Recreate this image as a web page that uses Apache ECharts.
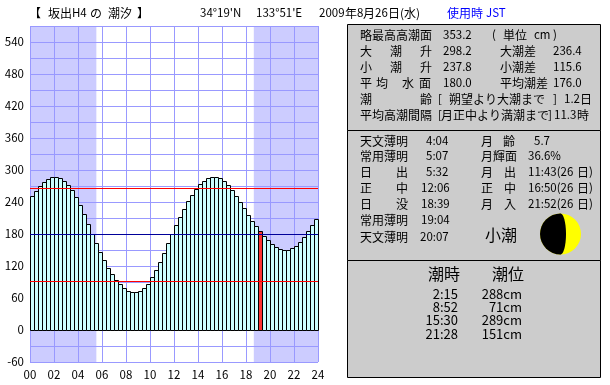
<!DOCTYPE html>
<html>
<head>
<meta charset="utf-8">
<style>
  html, body { margin: 0; padding: 0; background: #fff; }
  #chart { width: 610px; height: 385px; }
</style>
<script src="https://cdn.jsdelivr.net/npm/echarts@6/dist/echarts.min.js"></script>
</head>
<body>
<div id="chart"></div>
<script>
// 潮位 (cm), one bar every 20 minutes
var tideLevels = [
  251, 260, 269, 277, 282, 286, 286, 284, 279, 271, 262, 249,
  234, 217, 198, 179, 162, 146, 131, 116, 104, 93, 86, 78,
  72, 71, 71, 72, 78, 86, 99, 112, 127, 144, 162, 179,
  196, 211, 226, 241, 252, 264, 273, 279, 284, 286, 286, 284,
  279, 271, 262, 251, 239, 228, 215, 204, 194, 185, 176, 168,
  161, 155, 151, 149, 149, 153, 157, 164, 174, 185, 196, 207
];
var nowBarIndex = 57;
var barSlots = tideLevels.map(function (v, i) { return i; });

var meanHighWater = 266;
var meanLevel = 180;
var meanLowWater = 92;

var sunRise = 5.53;
var sunSet = 18.65;

var titleTexts = [
  ["【", 29], ["坂出", 48], ["H4", 72], ["の", 90], ["潮汐", 108], ["】", 137],
  ["34°19'N", 200], ["133°51'E", 256],
  ["2009", 319], ["年", 345], ["8", 357], ["月", 363], ["26", 375], ["日", 388], ["(水)", 400]
];

// [text, x, y]
var tableTexts = [
  ["略最高高潮面", 360, 35], ["353.2", 443, 35], ["(", 492, 35], ["単位", 503, 35], ["cm", 534, 35], [")", 553, 35],
  ["大", 360, 51], ["潮", 390, 51], ["升", 420, 51], ["298.2", 443, 51], ["大潮差", 500, 51], ["236.4", 553, 51],
  ["小", 360, 67], ["潮", 390, 67], ["升", 420, 67], ["237.8", 443, 67], ["小潮差", 500, 67], ["115.6", 553, 67],
  ["平", 360, 83], ["均", 376, 83], ["水", 402, 83], ["面", 419, 83], ["180.0", 443, 83], ["平均潮差", 500, 83], ["176.0", 553, 83],
  ["潮", 360, 99], ["齢", 420, 99], ["[", 438, 99], ["朔望より大潮まで", 449, 99], ["]", 553, 99], ["1.2", 564, 99], ["日", 580, 99],
  ["平均高潮間隔", 360, 115], ["[", 438, 115], ["月正中より満潮まで", 441, 115], ["]", 548, 115], ["11.3", 554, 115], ["時", 577, 115]
];

var sunMoonTexts = [
  ["天文薄明", 360, 141], ["4:04", 426, 141], ["月", 481, 141], ["齢", 503, 141], ["5.7", 534, 141],
  ["常用薄明", 360, 156], ["5:07", 426, 156], ["月輝面", 481, 156], ["36.6%", 528, 156],
  ["日", 360, 172], ["出", 396, 172], ["5:32", 426, 172], ["月", 481, 172], ["出", 504, 172], ["11:43(26", 528, 172], ["日", 577, 172], [")", 589, 172],
  ["正", 360, 188], ["中", 396, 188], ["12:06", 421, 188], ["正", 481, 188], ["中", 504, 188], ["16:50(26", 528, 188], ["日", 577, 188], [")", 589, 188],
  ["日", 360, 204], ["没", 396, 204], ["18:39", 421, 204], ["月", 481, 204], ["入", 504, 204], ["21:52(26", 528, 204], ["日", 577, 204], [")", 589, 204],
  ["常用薄明", 360, 220], ["19:04", 421, 220],
  ["天文薄明", 360, 237], ["20:07", 420, 237]
];

var tideTurnTimes = ["2:15", "8:52", "15:30", "21:28"];
var tideTurnLevels = ["288cm", "71cm", "289cm", "151cm"];

var FONT_CJK = '"Noto Sans CJK JP", sans-serif';

function label(text, x, y, size, color, align) {
  return {
    type: "text",
    z: 20,
    style: {
      text: text,
      x: x,
      y: y,
      font: size + "px " + FONT_CJK,
      fill: color || "#000",
      align: align || "left",
      verticalAlign: "middle"
    }
  };
}

function panel(y, h) {
  return {
    type: "rect",
    z: 10,
    shape: { x: 347.5, y: y + 0.5, width: 253, height: h },
    style: { fill: "#cccccc", stroke: "#000", lineWidth: 1 }
  };
}

function smartSize(text) {
  return /[\u3000-\u9fff]/.test(text) ? 12 : 11.5;
}

var graphics = [panel(24, 106), panel(130, 130), panel(260, 117)];

titleTexts.forEach(function (t) {
  graphics.push(label(t[0], t[1], 13, smartSize(t[0])));
});
graphics.push(label("使用時", 447, 13, 12, "#0000ff"));
graphics.push(label("JST", 486, 13, 11.5, "#0000ff"));

tableTexts.concat(sunMoonTexts).forEach(function (t) {
  graphics.push(label(t[0], t[1], t[2], smartSize(t[0])));
});

graphics.push(label("小潮", 485, 235, 16));

// moon
graphics.push({ type: "circle", z: 11, shape: { cx: 560.5, cy: 234, r: 20.5 }, style: { fill: "#ffff00" } });
graphics.push({
  type: "sector", z: 12,
  shape: { cx: 560.5, cy: 234, r: 20.5, r0: 0, startAngle: Math.PI / 2, endAngle: Math.PI * 1.5 },
  style: { fill: "#000" }
});
graphics.push({ type: "ellipse", z: 12, shape: { cx: 560.5, cy: 234, rx: 5.5, ry: 20.5 }, style: { fill: "#000" } });

graphics.push(label("潮時", 428, 274, 16));
graphics.push(label("潮位", 492, 274, 16));
tideTurnTimes.forEach(function (t, i) {
  graphics.push(label(t, 458, 294 + i * 13.2, 13, "#000", "right"));
  graphics.push(label(tideTurnLevels[i], 522, 294 + i * 13.2, 13, "#000", "right"));
});

var myChart = echarts.init(document.getElementById("chart"), null, { renderer: "canvas" });

var gridLine = { show: true, lineStyle: { color: "#9999ff", width: 1 } };

// neighbouring bars share one black edge, so stroke on pixel centres
function renderTideBar(params, api) {
  var i = api.value(0);
  var top = api.coord([i, api.value(1)]);
  var base = api.coord([i, 0]);
  var w = api.size([1, 0])[0];
  var left = Math.round(top[0] - w / 2) + 0.5;
  var y = Math.round(top[1] - 0.5) + 0.5;
  return {
    type: "rect",
    shape: { x: left, y: y, width: w, height: Math.round(base[1]) + 0.5 - y },
    style: {
      fill: i === nowBarIndex ? "#ff3333" : "#ccffff",
      stroke: "#000",
      lineWidth: 1
    }
  };
}

var option = {
  animation: false,
  backgroundColor: "#fff",
  grid: { left: 30, right: 292, top: 26, bottom: 23 },
  xAxis: [
    {
      type: "category",
      show: false,
      data: barSlots,
      boundaryGap: true
    },
    {
      type: "value",
      position: "bottom",
      min: 0,
      max: 24,
      interval: 2,
      z: 2,
      axisLine: { show: false },
      axisTick: { show: false },
      splitLine: gridLine,
      axisLabel: {
        margin: 7,
        color: "#000",
        fontSize: 11.5,
        fontFamily: FONT_CJK,
        hideOverlap: false,
        showMinLabel: true,
        showMaxLabel: true,
        formatter: function (v) {
          return (v < 10 ? "0" : "") + v;
        }
      }
    }
  ],
  yAxis: {
    type: "value",
    min: -60,
    max: 570,
    interval: 30,
    z: 2,
    axisLine: { show: false },
    axisTick: { show: false },
    splitLine: gridLine,
    axisLabel: {
      margin: 6,
      color: "#000",
      fontSize: 11.5,
      fontFamily: FONT_CJK,
      showMinLabel: true,
      formatter: function (v) {
        return v % 60 === 0 ? String(v) : "";
      }
    }
  },
  series: [
    {
      // 夜間の網掛け
      type: "line",
      xAxisIndex: 1,
      data: [],
      z: 1,
      silent: true,
      markArea: {
        silent: true,
        z: 1,
        itemStyle: { color: "#ccccff", opacity: 1 },
        data: [
          [{ xAxis: 0 }, { xAxis: sunRise }],
          [{ xAxis: sunSet }, { xAxis: 24 }]
        ]
      }
    },
    {
      type: "custom",
      xAxisIndex: 0,
      z: 3,
      silent: true,
      clip: false,
      renderItem: renderTideBar,
      encode: { x: 0, y: 1 },
      data: tideLevels.map(function (v, i) {
        return [i, v];
      })
    },
    {
      type: "line",
      xAxisIndex: 1,
      data: [],
      z: 4,
      silent: true,
      markLine: {
        silent: true,
        z: 4,
        symbol: "none",
        label: { show: false },
        data: [
          { yAxis: meanHighWater, lineStyle: { color: "#ff0000", width: 1, type: "solid" } },
          { yAxis: meanLevel, lineStyle: { color: "#000099", width: 1, type: "solid" } },
          { yAxis: meanLowWater, lineStyle: { color: "#ff0000", width: 1, type: "solid" } }
        ]
      }
    }
  ],
  graphic: { elements: graphics }
};

myChart.setOption(option);
</script>
</body>
</html>
